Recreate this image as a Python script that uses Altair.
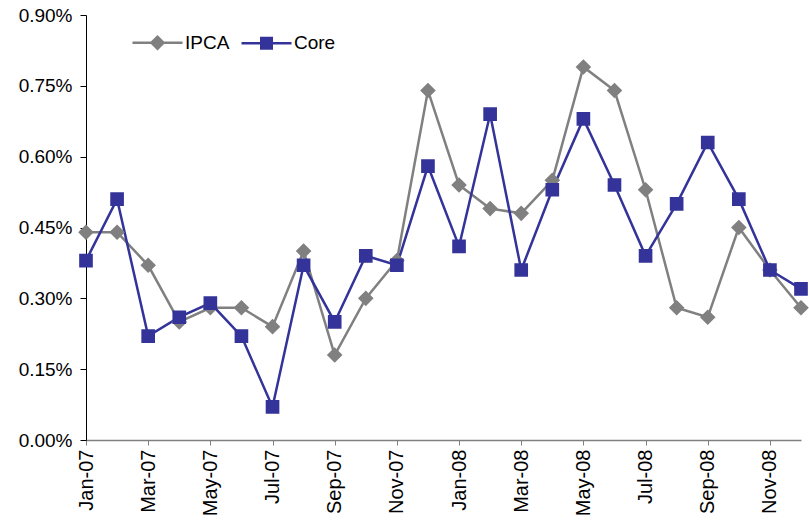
import altair as alt
import pandas as pd

months = ["Jan-07", "Feb-07", "Mar-07", "Apr-07", "May-07", "Jun-07",
          "Jul-07", "Aug-07", "Sep-07", "Oct-07", "Nov-07", "Dec-07",
          "Jan-08", "Feb-08", "Mar-08", "Apr-08", "May-08", "Jun-08",
          "Jul-08", "Aug-08", "Sep-08", "Oct-08", "Nov-08", "Dec-08"]
ipca = [0.44, 0.44, 0.37, 0.25, 0.28, 0.28, 0.24, 0.40, 0.18, 0.30, 0.38, 0.74,
        0.54, 0.49, 0.48, 0.55, 0.79, 0.74, 0.53, 0.28, 0.26, 0.45, 0.36, 0.28]
core = [0.38, 0.51, 0.22, 0.26, 0.29, 0.22, 0.07, 0.37, 0.25, 0.39, 0.37, 0.58,
        0.41, 0.69, 0.36, 0.53, 0.68, 0.54, 0.39, 0.50, 0.63, 0.51, 0.36, 0.32]
series_names = ["IPCA", "Core"]
series_colors = ["#808080", "#333399"]
y_ticks = [0.0, 0.0015, 0.003, 0.0045, 0.006, 0.0075, 0.009]

rows = []
for name, vals in zip(series_names, [ipca, core]):
    for m, v in zip(months, vals):
        rows.append({"month": m, "series": name, "value": v / 100.0})
df = pd.DataFrame(rows)

FONT = "Liberation Sans"
diamond = "M-1,0H1M-0.24,0L0,-0.24L0.24,0L0,0.24Z"
square = "M-1,0H1M-0.21,-0.21H0.21V0.21H-0.21Z"

x_enc = alt.X("month:O", sort=months, scale=alt.Scale(padding=0),
              axis=alt.Axis(values=months[::2], labelAngle=-90, title=None,
                            labelFontSize=20, labelFont=FONT, labelColor="black",
                            domainColor="#808080", tickColor="#808080",
                            tickSize=5, labelPadding=4, domainWidth=1.5))
y_enc = alt.Y("value:Q", scale=alt.Scale(domain=[0, 0.009], nice=False),
              axis=alt.Axis(values=y_ticks, format=".2%", title=None, grid=False,
                            labelFontSize=19, labelFont=FONT, labelColor="black",
                            domainColor="black", tickColor="black",
                            tickSize=6, labelPadding=8))

color_scale = alt.Scale(domain=series_names, range=series_colors)
shape_scale = alt.Scale(domain=series_names, range=[diamond, square])
leg = alt.Legend(title=None, orient="none", legendX=45, legendY=1,
                 direction="horizontal", symbolSize=2500, symbolStrokeWidth=2.5,
                 labelFontSize=19, labelFont=FONT, labelColor="black",
                 labelOffset=1, columnPadding=6, padding=0)

lines = alt.Chart(df).mark_line(strokeWidth=2.5).encode(
    x=x_enc, y=y_enc,
    color=alt.Color("series:N", scale=color_scale, legend=leg),
    detail="series:N",
)

points = alt.Chart(df).mark_point(filled=True, opacity=1, size=4225).encode(
    x=x_enc, y=y_enc,
    color=alt.Color("series:N", scale=color_scale, legend=leg),
    stroke=alt.Stroke("series:N", scale=color_scale, legend=leg),
    shape=alt.Shape("series:N", scale=shape_scale, legend=leg),
    strokeWidth=alt.value(0),
)

chart = alt.layer(lines, points).properties(
    width=715, height=425,
    autosize=alt.AutoSizeParams(type="none"),
    padding={"left": 86, "top": 15, "right": 8, "bottom": 84},
    background="white",
).configure_view(stroke=None)

chart.save("out.html", embed_options={"renderer": "svg", "actions": False})
